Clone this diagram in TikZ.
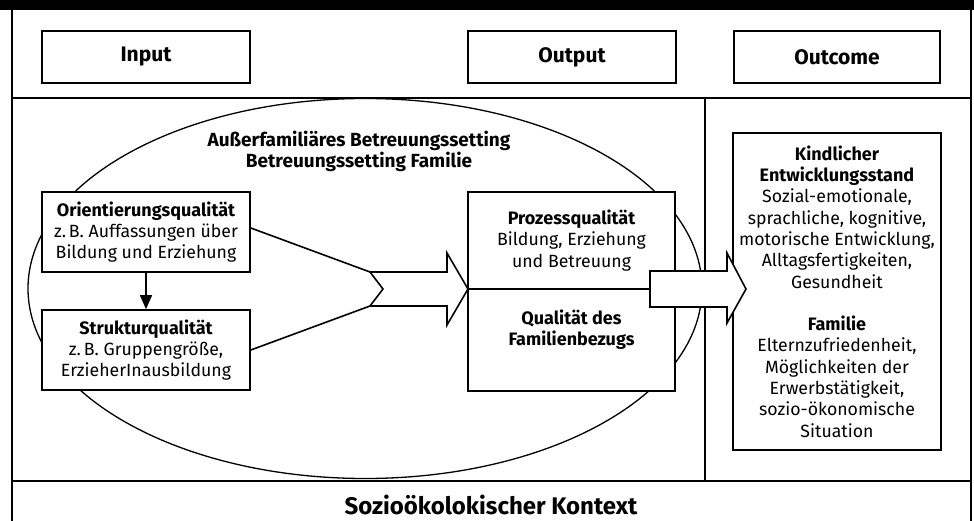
\documentclass[tikz,border=0pt]{standalone}
\usepackage{fontspec}
\setmainfont{Fira Sans}
\usetikzlibrary{shapes.geometric,arrows.meta}
\newcommand{\hb}[1]{{\fontsize{18}{21.3}\selectfont\bfseries #1}}
\begin{document}
\begin{tikzpicture}[x=1pt,y=-1pt,
  frameline/.style={line width=1.3pt},
  box/.style={draw, line width=1.6pt, fill=white, align=center, inner sep=0pt},
  bodytext/.style={font=\fontsize{17.7}{21.3}\selectfont},
  hdrtext/.style={font=\fontsize{21}{24}\selectfont\bfseries},
  blockarrow/.style={draw, line width=1.6pt, fill=white, line join=miter}]
\useasboundingbox (0,0) rectangle (974,521);
% top bar and frame
\fill[black] (0,0) rectangle (974,10);
\coordinate (fl) at (12,10);
\coordinate (fr) at (971,10);
\coordinate (flb) at (12,521);
\coordinate (frb) at (971,521);
\draw[frameline] (fl) -- (flb);
\draw[frameline] (fr) -- (frb);
\coordinate (h1l) at (12,98);
\coordinate (h1r) at (971,98);
\draw[frameline] (h1l) -- (h1r);
\coordinate (h2l) at (12,481);
\coordinate (h2r) at (971,481);
\draw[frameline] (h2l) -- (h2r);
\coordinate (vt) at (705,98);
\coordinate (vb) at (705,481);
\draw[frameline] (vt) -- (vb);
% headers
\node[box, hdrtext, minimum width=208pt, minimum height=52pt] (input) at (146,57) {Input};
\node[box, hdrtext, minimum width=208pt, minimum height=52pt] (output) at (572,57) {Output};
\node[box, hdrtext, minimum width=206pt, minimum height=52pt] (outcome) at (837,57) {Outcome};
% ellipse
\node[draw, ellipse, line width=1.3pt, minimum width=674pt, minimum height=380pt, inner sep=0pt] (ell) at (365,288.5) {};
\node[font=\fontsize{19}{21}\selectfont\bfseries, align=center] (setting) at (359,151) {Außerfamiliäres Betreuungssetting\\Betreuungssetting Familie};
% input boxes
\node[box, bodytext, minimum width=208pt, minimum height=80pt] (orient) at (146,232)
  {\hb{Orientierungsqualität}\\z.\,B. Auffassungen über\\Bildung und Erziehung};
\node[box, bodytext, minimum width=208pt, minimum height=80pt] (struk) at (146,350)
  {\hb{Strukturqualität}\\z.\,B. Gruppengröße,\\ErzieherInausbildung};
\draw[line width=1.5pt, -{Triangle[length=14pt,width=12pt]}] (orient.south) -- (struk.north);
% converging lines and first block arrow
\coordinate (n1) at (370,272);
\coordinate (n2) at (370,306);
\coordinate (nt) at (383,289);
\draw[line width=1.6pt] ([yshift=4pt]orient.east) -- (n1);
\draw[line width=1.6pt] (struk.east) -- (n2);
\draw[blockarrow] (n1) -- (447,272) -- (447,253) -- (468,289) -- (447,325) -- (447,306) -- (n2) -- (nt) -- cycle;
% output boxes
\node[box, bodytext, minimum width=207pt, minimum height=97pt] (proz) at (571.5,240.5)
  {\hb{Prozessqualität}\\Bildung, Erziehung\\und Betreuung};
\node[box, bodytext, minimum width=207pt, minimum height=102pt] (fam) at (571.5,340)
  {\hb{Qualität des}\\\hb{Familienbezugs}\\[3pt]};
% outcome box
\node[box, bodytext, minimum width=208pt, minimum height=317pt] (kind) at (837,291.5)
  {\hb{Kindlicher}\\\hb{Entwicklungsstand}\\Sozial-emotionale,\\sprachliche, kognitive,\\motorische Entwicklung,\\Alltagsfertigkeiten,\\Gesundheit\\[21.3pt]
   \hb{Familie}\\Elternzufriedenheit,\\Möglichkeiten der\\Erwerbstätigkeit,\\sozio-ökonomische\\Situation};
% second block arrow
\coordinate (a1) at (650,271);
\coordinate (a2) at (650,307);
\draw[blockarrow] (a1) -- (727,271) -- (727,253) -- (746,289) -- (727,323) -- (727,307) -- (a2) -- cycle;
% context
\node[font=\fontsize{24}{26}\selectfont\bfseries] (kontext) at (491,505) {Sozioökolokischer Kontext};
\end{tikzpicture}
\end{document}
